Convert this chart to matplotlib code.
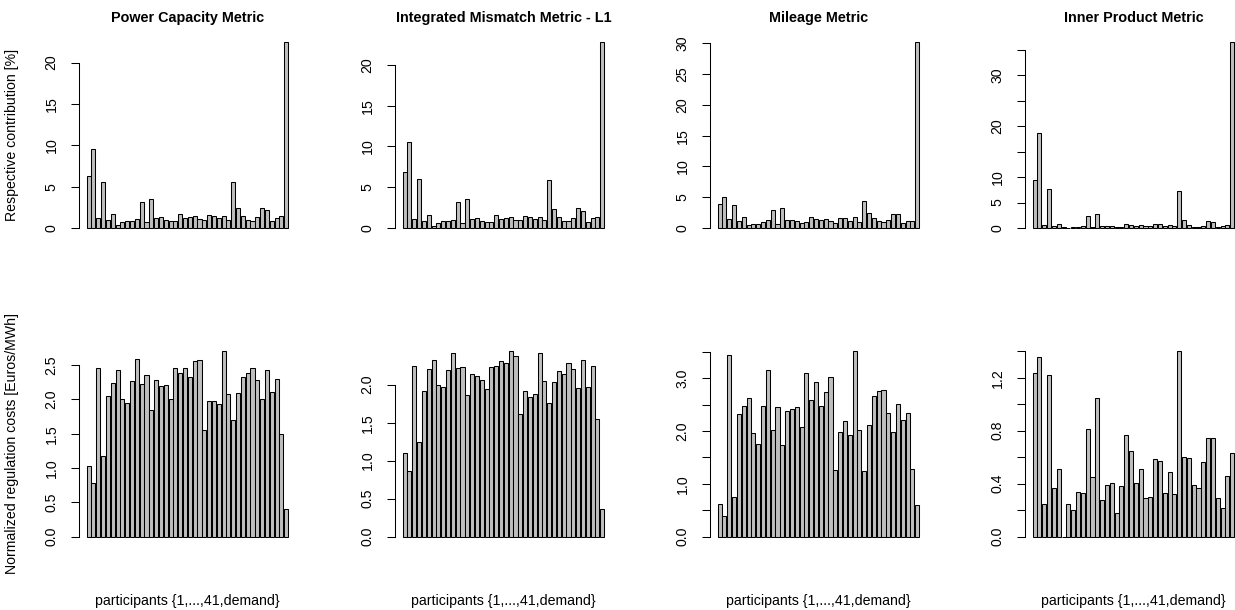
import matplotlib
matplotlib.use('Agg')
import matplotlib.pyplot as plt
import numpy as np

plt.rcParams['font.family'] = ['Liberation Sans', 'DejaVu Sans']

titles = ["Power Capacity Metric", "Integrated Mismatch Metric - L1",
          "Mileage Metric", "Inner Product Metric"]
ylabel_top = "Respective contribution [%]"
ylabel_bottom = "Normalized regulation costs [Euros/MWh]"
xlabel = "participants {1,...,41,demand}"

# ---- respective contribution [%] (41 participants + demand) ----
contrib_power = [6.3, 9.5, 1.2, 5.6, 1.0, 1.7, 0.4, 0.7, 0.8, 0.9,
                 1.1, 3.1, 0.7, 3.5, 1.2, 1.3, 1.0, 0.8, 0.8, 1.7,
                 1.2, 1.3, 1.4, 1.1, 1.0, 1.6, 1.5, 1.2, 1.4, 1.0,
                 5.6, 2.4, 1.4, 1.0, 0.9, 1.3, 2.4, 2.2, 0.8, 1.2,
                 1.4, 22.5]
contrib_l1 = [6.8, 10.5, 1.1, 6.0, 0.9, 1.6, 0.3, 0.6, 0.8, 0.8,
              1.0, 3.2, 0.6, 3.5, 1.1, 1.2, 0.9, 0.7, 0.7, 1.6,
              1.1, 1.2, 1.3, 1.0, 1.0, 1.5, 1.4, 1.1, 1.3, 1.0,
              5.9, 2.3, 1.3, 0.9, 0.8, 1.2, 2.4, 2.1, 0.7, 1.2,
              1.4, 22.8]
contrib_mileage = [3.9, 5.1, 1.4, 3.8, 1.1, 1.7, 0.4, 0.7, 0.7, 1.0,
                   1.3, 2.9, 0.7, 3.2, 1.3, 1.3, 1.1, 0.8, 1.0, 1.8,
                   1.5, 1.3, 1.4, 1.2, 0.8, 1.6, 1.6, 1.2, 1.8, 1.0,
                   4.3, 2.4, 1.6, 1.1, 1.0, 1.3, 2.3, 2.3, 0.8, 1.1,
                   1.1, 30.2]
contrib_inner = [9.4, 18.7, 0.5, 7.6, 0.3, 0.85, 0.1, 0.05, 0.2, 0.2,
                 0.3, 2.4, 0.1, 2.8, 0.4, 0.4, 0.3, 0.1, 0.2, 0.7,
                 0.5, 0.3, 0.5, 0.3, 0.3, 0.7, 0.7, 0.4, 0.5, 0.3,
                 7.3, 1.6, 0.5, 0.2, 0.2, 0.3, 1.4, 1.1, 0.2, 0.4,
                 0.6, 36.6]

# ---- normalized regulation costs [Euros/MWh] ----
cost_power = [1.03, 0.78, 2.45, 1.17, 2.05, 2.24, 2.42, 2.00, 1.94, 2.26,
              2.59, 2.23, 2.35, 1.85, 2.28, 2.19, 2.21, 2.00, 2.46, 2.38,
              2.45, 2.33, 2.56, 2.57, 1.55, 1.97, 1.98, 1.93, 2.70, 2.08,
              1.70, 2.09, 2.33, 2.38, 2.46, 2.28, 2.00, 2.43, 2.11, 2.29,
              1.50, 0.40]
cost_l1 = [1.10, 0.86, 2.24, 1.24, 1.92, 2.20, 2.32, 1.99, 1.97, 2.19,
           2.42, 2.22, 2.23, 1.86, 2.14, 2.12, 2.06, 1.94, 2.23, 2.24,
           2.31, 2.28, 2.44, 2.38, 1.62, 1.92, 1.84, 1.88, 2.41, 2.05,
           1.76, 2.04, 2.18, 2.14, 2.29, 2.21, 1.96, 2.33, 1.97, 2.25,
           1.55, 0.37]
cost_mileage = [0.62, 0.39, 3.43, 0.75, 2.33, 2.47, 2.62, 1.97, 1.75, 2.47,
                3.15, 2.01, 2.46, 1.73, 2.38, 2.42, 2.45, 2.08, 3.09, 2.59,
                2.92, 2.47, 2.73, 3.03, 1.27, 1.98, 2.18, 1.93, 3.51, 2.01,
                1.24, 2.11, 2.67, 2.75, 2.77, 2.34, 1.98, 2.52, 2.21, 2.34,
                1.29, 0.60]
cost_inner = [1.235, 1.36, 0.245, 1.22, 0.37, 0.51, 0.0, 0.25, 0.20, 0.34,
              0.33, 0.81, 0.45, 1.05, 0.28, 0.39, 0.405, 0.18, 0.38, 0.77,
              0.65, 0.405, 0.51, 0.29, 0.30, 0.59, 0.57, 0.33, 0.49, 0.325,
              1.40, 0.60, 0.595, 0.39, 0.37, 0.56, 0.745, 0.745, 0.29, 0.215,
              0.455, 0.63]

# ---- axis ticks and their labels ('' = label dropped) ----
top_ticks = [[0, 5, 10, 15, 20], [0, 5, 10, 15, 20],
             [0, 5, 10, 15, 20, 25, 30], [0, 5, 10, 15, 20, 25, 30, 35]]
top_labels = [["0", "5", "10", "15", "20"], ["0", "5", "10", "15", "20"],
              ["0", "5", "10", "15", "20", "25", "30"],
              ["0", "5", "10", "", "20", "", "30", ""]]
bot_ticks = [[0.0, 0.5, 1.0, 1.5, 2.0, 2.5], [0.0, 0.5, 1.0, 1.5, 2.0],
             [0.0, 0.5, 1.0, 1.5, 2.0, 2.5, 3.0, 3.5],
             [0.0, 0.2, 0.4, 0.6, 0.8, 1.0, 1.2, 1.4]]
bot_labels = [["0.0", "0.5", "1.0", "1.5", "2.0", "2.5"],
              ["0.0", "0.5", "1.0", "1.5", "2.0"],
              ["0.0", "", "1.0", "", "2.0", "", "3.0", ""],
              ["0.0", "", "0.4", "", "0.8", "", "1.2", ""]]

top_data = [contrib_power, contrib_l1, contrib_mileage, contrib_inner]
bot_data = [cost_power, cost_l1, cost_mileage, cost_inner]

W, H = 1235, 610
fig = plt.figure(figsize=(W / 100, H / 100), dpi=100)
fig.patch.set_facecolor('white')

lefts = [78.6, 394.6, 709.6, 1024.6]
pw = 217.7
rows = [(34.5, 235.4), (343.8, 544.1)]
FS = 10.2
TFS = 10.4


def make_ax(left, top, bottom):
    return fig.add_axes([left / W, 1 - bottom / H, pw / W, (bottom - top) / H])


def panel(ax, values, ticks, labels):
    n = len(values)
    lefts_bar = 0.2 + 1.2 * np.arange(n)
    ax.bar(lefts_bar, values, width=1.0, align='edge', color='#BEBEBE',
           edgecolor='black', linewidth=0.75)
    m = max(values)
    ax.set_ylim(-0.04 * m, 1.04 * m)
    lo, hi = 0.2, 1.2 * n
    span = hi - lo
    ax.set_xlim(lo - 0.04 * span, hi + 0.04 * span)
    for s in ['top', 'right', 'bottom']:
        ax.spines[s].set_visible(False)
    ax.spines['left'].set_bounds(ticks[0], ticks[-1])
    ax.spines['left'].set_linewidth(0.75)
    ax.set_xticks([])
    ax.set_yticks(ticks)
    ax.set_yticklabels(labels, rotation=90, ha='right', va='center')
    ax.tick_params(axis='y', length=5.5, width=0.75, pad=9, labelsize=FS,
                   colors='black')
    ax.patch.set_alpha(0)


for j in range(4):
    ax = make_ax(lefts[j], *rows[0])
    panel(ax, top_data[j], top_ticks[j], top_labels[j])
    fig.text((lefts[j] + pw / 2) / W, 1 - 18 / H, titles[j], ha='center',
             va='center', fontsize=TFS, fontweight='bold')
    ax2 = make_ax(lefts[j], *rows[1])
    panel(ax2, bot_data[j], bot_ticks[j], bot_labels[j])
    fig.text((lefts[j] + pw / 2) / W, 1 - 601 / H, xlabel, ha='center',
             va='center', fontsize=FS)

fig.text(12 / W, 1 - (rows[0][0] + rows[0][1]) / 2 / H, ylabel_top,
         rotation=90, ha='center', va='center', fontsize=FS)
fig.text(12 / W, 1 - (rows[1][0] + rows[1][1]) / 2 / H, ylabel_bottom,
         rotation=90, ha='center', va='center', fontsize=FS)

fig.savefig('out.png', dpi=100, facecolor='white')
